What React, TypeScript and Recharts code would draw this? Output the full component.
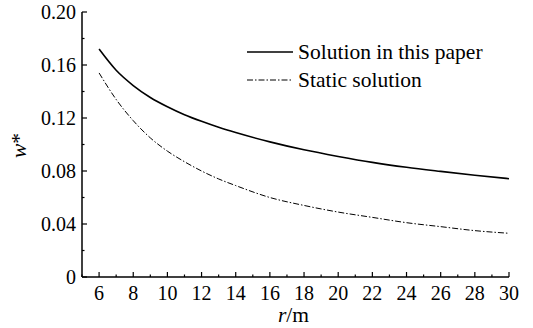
import React from 'react';
import { LineChart, Line, XAxis, YAxis } from 'recharts';

const rValues = [6, 7, 8, 9, 10, 11, 12, 13, 14, 16, 18, 20, 22, 24, 26, 28, 30];
const solutionValues = [0.172, 0.156, 0.1445, 0.1355, 0.1285, 0.1225, 0.1175, 0.113, 0.109, 0.102, 0.096, 0.091, 0.0865, 0.0828, 0.0797, 0.0768, 0.0742];
const staticValues = [0.154, 0.134, 0.118, 0.105, 0.095, 0.087, 0.08, 0.074, 0.069, 0.06, 0.054, 0.049, 0.045, 0.041, 0.038, 0.035, 0.033];

const seriesNames = ['Solution in this paper', 'Static solution'];

const xTicks = [5, 6, 7, 8, 9, 10, 11, 12, 13, 14, 15, 16, 17, 18, 19, 20, 21, 22, 23, 24, 25, 26, 27, 28, 29, 30];
const xLabelTicks = [6, 8, 10, 12, 14, 16, 18, 20, 22, 24, 26, 28, 30];
const yTicks = [0, 0.02, 0.04, 0.06, 0.08, 0.1, 0.12, 0.14, 0.16, 0.18, 0.2];
const yLabelTicks = [0, 0.04, 0.08, 0.12, 0.16, 0.2];
const yLabelTexts = ['0', '0.04', '0.08', '0.12', '0.16', '0.20'];

const data = rValues.map((r, i) => ({ r, solution: solutionValues[i], stat: staticValues[i] }));

const FONT = "'Liberation Serif', Tinos, serif";
const TICK_FS = 20;
const BIG_FS = 21.5;
const MAJOR = 5;
const MINOR = 2.5;

const T = (props: any) => {
  const { children, size, ...rest } = props;
  return (
    <text {...rest} fill="#000" style={{ fontFamily: FONT, fontSize: size ?? TICK_FS }}>
      {children}
    </text>
  );
};

const yLabelIndex = (v: number) => yLabelTicks.findIndex((t) => Math.abs(t - v) < 1e-9);

const XTickBottom = (props: any) => {
  const { x, y, payload } = props;
  const v = payload.value;
  const major = xLabelTicks.includes(v);
  return (
    <g>
      <line x1={x} x2={x} y1={y} y2={y - (major ? MAJOR : MINOR)} stroke="#000" strokeWidth={1.2} />
      {major && (
        <T x={x} y={y + 16} textAnchor="middle" dominantBaseline="central">
          {String(v)}
        </T>
      )}
    </g>
  );
};

const XTickTop = (props: any) => {
  const { x, y, payload } = props;
  const major = xLabelTicks.includes(payload.value);
  return <line x1={x} x2={x} y1={y} y2={y + (major ? MAJOR : MINOR)} stroke="#000" strokeWidth={1.2} />;
};

const YTickLeft = (props: any) => {
  const { x, y, payload } = props;
  const idx = yLabelIndex(payload.value);
  const major = idx >= 0;
  return (
    <g>
      <line x1={x} x2={x + (major ? MAJOR : MINOR)} y1={y} y2={y} stroke="#000" strokeWidth={1.2} />
      {major && (
        <T x={x - 6} y={y} textAnchor="end" dominantBaseline="central">
          {yLabelTexts[idx]}
        </T>
      )}
    </g>
  );
};

const YTickRight = (props: any) => {
  const { x, y, payload } = props;
  const major = yLabelIndex(payload.value) >= 0;
  return <line x1={x} x2={x - (major ? MAJOR : MINOR)} y1={y} y2={y} stroke="#000" strokeWidth={1.2} />;
};

const XTitle = (props: any) => {
  const vb = props.viewBox;
  return (
    <T x={vb.x + vb.width / 2 - 2} y={vb.y + 38} textAnchor="middle" dominantBaseline="central" size={BIG_FS}>
      <tspan fontStyle="italic">r</tspan>
      <tspan>/m</tspan>
    </T>
  );
};

const YTitle = (props: any) => {
  const vb = props.viewBox;
  const cx = 19;
  const cy = vb.y + vb.height / 2 + 1;
  return (
    <T x={cx} y={cy} transform={`rotate(-90 ${cx} ${cy})`} textAnchor="middle" dominantBaseline="central" size={BIG_FS}>
      <tspan fontStyle="italic">w</tspan>
      <tspan>*</tspan>
    </T>
  );
};

export default function App() {
  return (
    <div style={{ position: 'absolute', left: 0, top: 0, width: 533, height: 328, background: '#fff' }}>
      <LineChart width={533} height={328} data={data} margin={{ top: 12, right: 24, left: 0, bottom: 0 }}>
        <XAxis
          dataKey="r"
          type="number"
          domain={[5, 30]}
          ticks={xTicks}
          interval={0}
          height={51}
          tickSize={0}
          tickMargin={0}
          tickLine={false}
          axisLine={{ stroke: '#000', strokeWidth: 1.5 }}
          tick={<XTickBottom />}
          label={{ content: <XTitle /> } as any}
        />
        <XAxis
          xAxisId="top"
          orientation="top"
          type="number"
          domain={[5, 30]}
          ticks={xTicks}
          interval={0}
          height={0}
          tickSize={0}
          tickMargin={0}
          tickLine={false}
          axisLine={{ stroke: '#000', strokeWidth: 1.5 }}
          tick={<XTickTop />}
        />
        <YAxis
          type="number"
          domain={[0, 0.2]}
          ticks={yTicks}
          interval={0}
          width={82}
          tickSize={0}
          tickMargin={0}
          tickLine={false}
          axisLine={{ stroke: '#000', strokeWidth: 1.5 }}
          tick={<YTickLeft />}
          label={{ content: <YTitle /> } as any}
        />
        <YAxis
          yAxisId="right"
          orientation="right"
          type="number"
          domain={[0, 0.2]}
          ticks={yTicks}
          interval={0}
          width={0}
          tickSize={0}
          tickMargin={0}
          tickLine={false}
          axisLine={{ stroke: '#000', strokeWidth: 1.5 }}
          tick={<YTickRight />}
        />
        <Line type="monotone" dataKey="solution" name={seriesNames[0]} stroke="#000" strokeWidth={1.6} dot={false} isAnimationActive={false} />
        <Line type="monotone" dataKey="stat" name={seriesNames[1]} stroke="#000" strokeWidth={1} strokeDasharray="6 2 1.5 2" dot={false} isAnimationActive={false} />
      </LineChart>
      <svg width={533} height={328} style={{ position: 'absolute', left: 0, top: 0, pointerEvents: 'none' }}>
        {seriesNames.map((name, i) => {
          const y = 52 + i * 28;
          return (
            <g key={name}>
              <line x1={247} x2={293} y1={y} y2={y} stroke="#000" strokeWidth={i === 0 ? 1.6 : 1} strokeDasharray={i === 0 ? undefined : '6 2 1.5 2'} />
              <T x={298} y={y} dominantBaseline="central" size={BIG_FS}>
                {name}
              </T>
            </g>
          );
        })}
      </svg>
    </div>
  );
}
